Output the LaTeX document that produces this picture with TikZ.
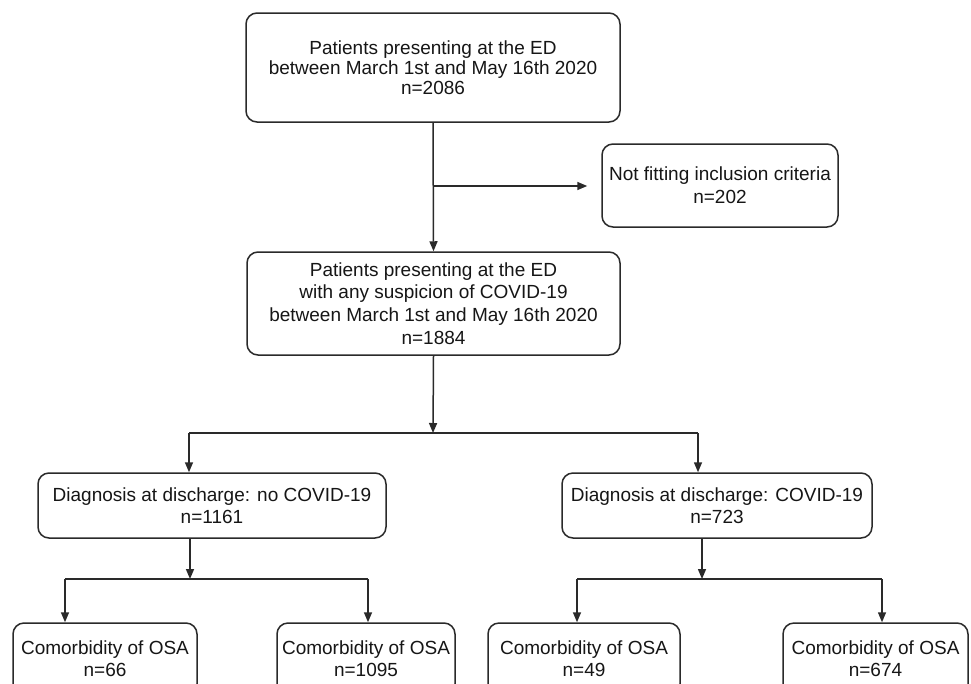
\documentclass[tikz,border=0pt]{standalone}
\usepackage{fontspec}
\setmainfont{Liberation Sans}
\usetikzlibrary{arrows.meta}
\definecolor{lc}{HTML}{2A2A2A}
\definecolor{tc}{HTML}{161616}
\begin{document}
\begin{tikzpicture}[x=1pt,y=-1pt,
  box/.style={draw=lc, line width=1.5pt, rounded corners=11pt, align=center, inner sep=0pt, font=\fontsize{19}{22}\selectfont, text=tc},
  ln/.style={draw=lc, line width=1.5pt},
  arr/.style={draw=lc, line width=1.5pt, -{Triangle[length=10pt,width=8pt]}}]
\useasboundingbox (0,0) rectangle (971,683);
\fill[white] (0,0) rectangle (971,683);
\clip (0,0) rectangle (971,683);

\node[box, minimum width=374pt, minimum height=109pt, font=\fontsize{19}{20}\selectfont] (top) at (433,67.5)
  {Patients presenting at the ED\\between March 1st and May 16th 2020\\n=2086};
\node[box, minimum width=373pt, minimum height=103pt, font=\fontsize{19}{22.7}\selectfont] (mid) at (433.5,303.5)
  {Patients presenting at the ED\\with any suspicion of COVID-19\\between March 1st and May 16th 2020\\n=1884};
\node[box, minimum width=236pt, minimum height=83pt, font=\fontsize{19}{23}\selectfont] (side) at (720,185.5)
  {Not fitting inclusion criteria\\n=202};
\node[box, minimum width=348pt, minimum height=65pt] (dl) at (212,505.5)
  {Diagnosis at discharge: no COVID-19\\n=1161};
\node[box, minimum width=310pt, minimum height=65pt] (dr) at (717,505.5)
  {Diagnosis at discharge: COVID-19\\n=723};
\node[box, minimum width=184pt, minimum height=72pt] (b1) at (105,659) {Comorbidity of OSA\\n=66};
\node[box, minimum width=178pt, minimum height=72pt] (b2) at (366,659) {Comorbidity of OSA\\n=1095};
\node[box, minimum width=192pt, minimum height=72pt] (b3) at (584,659) {Comorbidity of OSA\\n=49};
\node[box, minimum width=185pt, minimum height=72pt] (b4) at (875.5,659) {Comorbidity of OSA\\n=674};

% top to mid, with side branch
\coordinate (sj) at (433,186);
\draw[arr] (top.south) -- (mid.north);
\draw[arr] (sj) -- ([xshift=-14pt]side.west |- sj);

% mid split
\coordinate (m1) at (433,433);
\coordinate (hl) at (189,433);
\coordinate (hr) at (698,433);
\draw[arr] (mid.south) -- (m1);
\draw[ln] (hl) -- (hr);
\draw[arr] (hl) -- (hl |- dl.north);
\draw[arr] (hr) -- (hr |- dr.north);

% left split
\coordinate (l0) at (190,579);
\coordinate (l1) at (65,579);
\coordinate (l2) at (368,579);
\draw[arr] (dl.south -| l0) -- (l0);
\draw[ln] (l1) -- (l2);
\draw[arr] (l1) -- (l1 |- b1.north);
\draw[arr] (l2) -- (l2 |- b2.north);

% right split
\coordinate (r0) at (702,579);
\coordinate (r1) at (577,579);
\coordinate (r2) at (882,579);
\draw[arr] (dr.south -| r0) -- (r0);
\draw[ln] (r1) -- (r2);
\draw[arr] (r1) -- (r1 |- b3.north);
\draw[arr] (r2) -- (r2 |- b4.north);
\end{tikzpicture}
\end{document}
